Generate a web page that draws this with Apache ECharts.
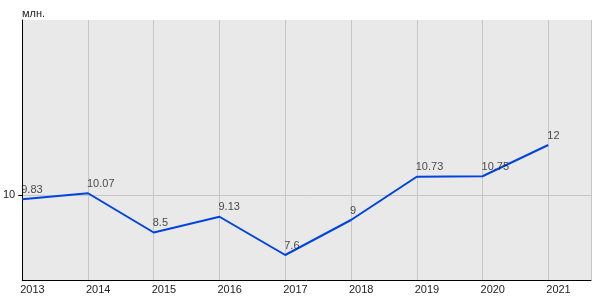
<!DOCTYPE html>
<html><head><meta charset="utf-8">
<script src="https://cdn.jsdelivr.net/npm/echarts@6/dist/echarts.min.js"></script>
<style>html,body{margin:0;padding:0;background:#fff}#c{width:600px;height:300px}</style>
</head><body><div id="c"></div>
<script>
const years = [2013, 2014, 2015, 2016, 2017, 2018, 2019, 2020, 2021];
const values = [9.83, 10.07, 8.5, 9.13, 7.6, 9, 10.73, 10.75, 12];
const yTickValues = [10];
const unitLabel = 'млн.';

const chart = echarts.init(document.getElementById('c'), null, {renderer: 'canvas'});
const font = 'Liberation Sans, Arial, sans-serif';
const pts = years.map((y, i) => [y, values[i]]);
chart.setOption({
  animation: false,
  backgroundColor: '#ffffff',
  title: {text: unitLabel, left: 17, top: 3, textStyle: {fontSize: 11, fontWeight: 'normal', color: '#222', fontFamily: font}},
  grid: {left: 20, right: 9, top: 20, bottom: 20, show: true, backgroundColor: '#e9e9e9', borderWidth: 0},
  xAxis: {
    type: 'value', min: 2013, max: 2021.65, interval: 1,
    axisLine: {show: true, lineStyle: {color: '#000', width: 1}},
    axisTick: {show: false},
    splitLine: {show: true, lineStyle: {color: '#c6c6c6', width: 1}},
    axisLabel: {
      customValues: years,
      align: 'left', margin: 4, padding: [0, 0, 0, -2], fontSize: 11, color: '#222', fontFamily: font,
      formatter: v => String(Math.round(v))
    }
  },
  yAxis: {
    type: 'value', min: 6.6, max: 17,
    axisLine: {show: true, onZero: false, lineStyle: {color: '#000', width: 1}},
    axisTick: {show: true, customValues: yTickValues, length: 4, lineStyle: {color: '#000'}},
    splitLine: {show: true, lineStyle: {color: '#c6c6c6', width: 1}},
    axisLabel: {customValues: yTickValues, margin: 7, fontSize: 11, color: '#222', fontFamily: font}
  },
  series: [{
    type: 'line',
    data: pts,
    symbol: 'none',
    lineStyle: {color: '#0044e0', width: 2},
    z: 2
  }, {
    type: 'scatter',
    data: pts,
    symbol: 'circle', symbolSize: 0.01,
    itemStyle: {color: '#0044e0'},
    z: 3,
    label: {
      show: true, position: 'top', distance: 4, align: 'left', offset: [-1, 0],
      fontSize: 11, color: '#222', fontFamily: font,
      formatter: p => String(p.value[1])
    }
  }]
});
</script></body></html>
